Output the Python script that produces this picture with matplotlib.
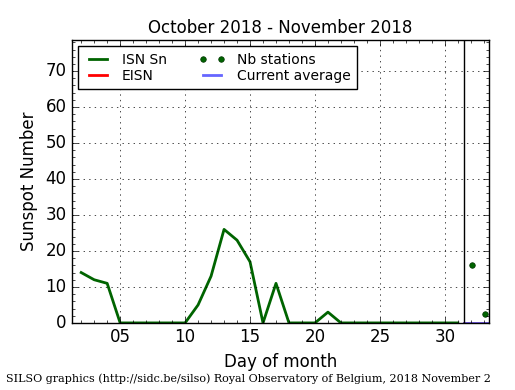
import matplotlib

matplotlib.use("Agg")
import matplotlib.pyplot as plt
import numpy as np

plt.style.use("classic")

# daily sunspot number (ISN Sn), days 2..31
days = list(range(2, 32))
isn = [14, 12, 11, 0, 0, 0, 0, 0, 0, 5, 13, 26, 23, 17, 0, 11, 0, 0, 0, 3,
       0, 0, 0, 0, 0, 0, 0, 0, 0, 0]

# Nb stations markers (scaled), plotted after the month boundary
nb_days = [32.1, 33.1]
nb_vals = [16, 2.5]

# current average / EISN segment after boundary
avg_days = [31.5, 33.4]
avg_vals = [0, 0]

boundary = 31.5
xlim = (1.3, 33.4)
ylim = (0, 78.6)
xticks = [5, 10, 15, 20, 25, 30]

fig = plt.figure(figsize=(5.15, 3.9), dpi=100, facecolor="white")
ax = fig.add_axes([0.140, 0.172, 0.8095, 0.725])

ax.plot(days, isn, "-", color="#006400", linewidth=2, label="ISN Sn")
ax.plot(avg_days, avg_vals, "-", color="red", linewidth=2, label="EISN")
ax.plot(nb_days, nb_vals, "o", color="#006400", markeredgecolor="#003300",
        markersize=4, label="Nb stations")
ax.plot(avg_days, avg_vals, "-", color="#6666ff", linewidth=2,
        label="Current average")
ax.axvline(boundary, color="black", linewidth=1)

ax.set_xlim(*xlim)
ax.set_ylim(*ylim)
ax.set_xticks(xticks)
ax.set_xticklabels([f"{d:02d}" for d in xticks])
ax.set_yticks(range(0, 80, 10))
ax.set_xticks(np.arange(2, 34, 1), minor=True)
ax.set_yticks(np.arange(0, 79, 2), minor=True)
ax.tick_params(labelsize=12)
ax.grid(True, which="major", linestyle=":", color="black")

ax.set_xlabel("Day of month", fontsize=12)
ax.set_ylabel("Sunspot Number", fontsize=12)
ax.set_title("October 2018 - November 2018", fontsize=12)

ax.legend(loc="upper left", ncol=2, numpoints=2, fontsize=10,
          handlelength=1.9, handletextpad=0.8, labelspacing=0.15,
          borderpad=0.45, borderaxespad=0.45, columnspacing=2.3)

fig.text(0.012, 0.02,
         "SILSO graphics (http://sidc.be/silso) Royal Observatory of Belgium, 2018 November 2",
         fontsize=8, family="DejaVu Serif")

fig.savefig("out.png", dpi=100, facecolor="white")
